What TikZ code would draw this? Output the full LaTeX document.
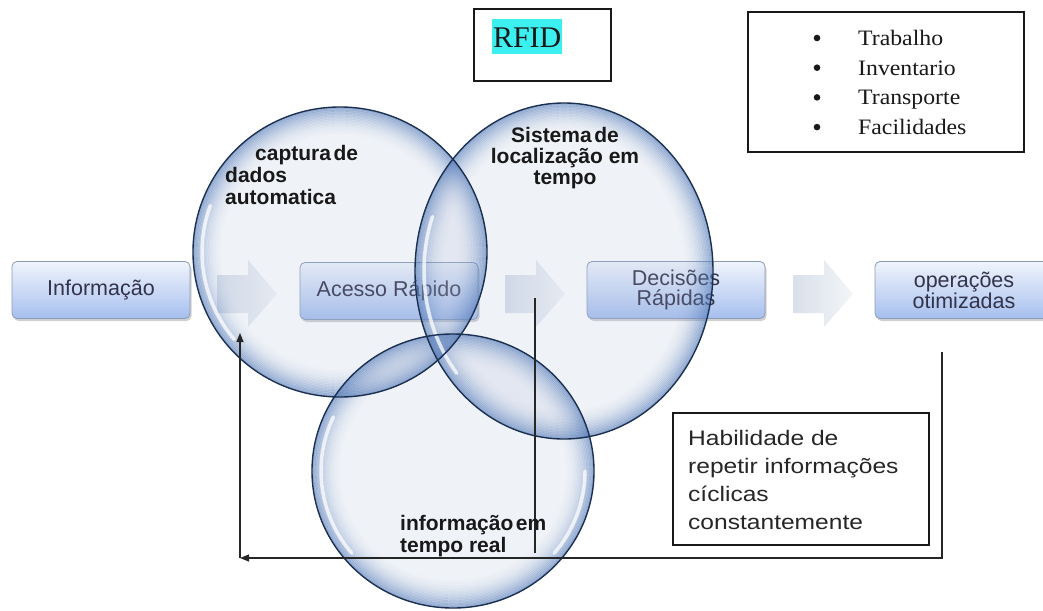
\documentclass[tikz,border=0pt]{standalone}
\usepackage{fontspec}
\usetikzlibrary{shapes.geometric,shadows,arrows.meta}
\setmainfont{Liberation Sans}
\newfontfamily\sansf{Liberation Sans}
\newfontfamily\habf{Liberation Sans}[FakeStretch=1.17]
\newfontfamily\serf{Liberation Serif}[FakeStretch=1.08]
\newfontfamily\rfidf{Liberation Serif}
\newcommand\tightsp{\spaceskip=2.5pt plus 1pt\relax}
\newcommand\drawrim[3]{%
  \foreach \k in {0,...,19}{%
    \pgfmathsetmacro\rimop{0.5*(1-\k/20)^2}%
    \pgfmathsetmacro\rimd{0.8+1.5*\k}%
    \draw[draw=bubRim, line width=1.7pt, opacity=\rimop] (#1.center) ellipse [x radius=#2-\rimd, y radius=#3-\rimd];
  }}
\definecolor{boxtop}{HTML}{F0F4FC}
\definecolor{boxbot}{HTML}{A6BFEE}
\definecolor{boxline}{HTML}{8C9BB8}
\definecolor{boxtext}{HTML}{33334A}
\definecolor{chevL}{HTML}{D9E0EB}
\definecolor{chevR}{HTML}{F3F5F8}
\definecolor{bubA}{HTML}{A9B9D8}
\definecolor{bubRim}{HTML}{4A74B6}
\definecolor{bubline}{HTML}{1B3050}
\definecolor{rfidcyan}{HTML}{3CF0F0}
\begin{document}
\begin{tikzpicture}[x=1pt,y=-1pt,
  procbox/.style={rounded corners=5pt, draw=boxline, line width=0.8pt,
    top color=boxtop, bottom color=boxbot, minimum width=178pt, minimum height=57pt,
    inner sep=0pt, align=center, text=boxtext,
    font=\sansf\fontsize{21.5}{19.5}\selectfont,
    drop shadow={shadow xshift=1.5pt, shadow yshift=-2.5pt, opacity=0.3, fill=black!60}},
  chev/.style={left color=chevL, right color=chevR, draw=none},
  bubtint/.style={ellipse, fill=bubA, fill opacity=0.18, inner sep=0pt},
  bubedge/.style={ellipse, draw=bubline, line width=1.4pt, inner sep=0pt},
  cA/.style={minimum width=294pt, minimum height=290pt},
  cB/.style={minimum width=298pt, minimum height=336pt},
  cC/.style={minimum width=282pt, minimum height=274pt},
  gloss/.style={draw=white, line width=3.5pt, opacity=0.75, line cap=round},
  bublabel/.style={inner sep=0pt, text=black!90,
    font=\sansf\bfseries\fontsize{21}{22}\selectfont},
  fbline/.style={draw=black!85, line width=1.1pt},
  fbarrow/.style={fbline, -{Triangle[length=9pt,width=7pt]}},
  plainbox/.style={draw=black!90, line width=1.2pt, fill=white, inner sep=0pt},
  bulletdot/.style={circle, fill=black!90, inner sep=0pt, minimum size=6.6pt}
]
\clip (0,0) rectangle (1043,610);
\fill[white] (0,0) rectangle (1043,610);

% process boxes
\node[procbox] (info) at (101,290) {Informação};
\node[procbox] (acesso) at (389,291) {Acesso Rápido};
\node[procbox] (decis) at (676,290) {Decisões\\Rápidas};
\node[procbox] (oper) at (964,290) {operações\\otimizadas};

% chevrons
\foreach \x in {217,505,793}{
  \path[chev] (\x,275) -- (\x+31,275) -- (\x+31,260) -- (\x+60,294) -- (\x+31,327) -- (\x+31,313) -- (\x,313) -- cycle;
}

% bubbles
\node[bubtint,cA] (c1) at (340,252) {};
\node[bubtint,cB] (c2) at (564,271) {};
\node[bubtint,cC] (c3) at (453,471) {};
\drawrim{c1}{147}{145}
\drawrim{c2}{149}{168}
\drawrim{c3}{141}{137}
\draw[gloss] ([shift={(140:138 and 136)}]c1.center) arc[start angle=140, end angle=200, x radius=138, y radius=136];
\draw[gloss] ([shift={(140:140 and 159)}]c2.center) arc[start angle=140, end angle=200, x radius=140, y radius=159];
\draw[gloss] ([shift={(140:132 and 128)}]c3.center) arc[start angle=140, end angle=205, x radius=132, y radius=128];
\draw[gloss] ([shift={(40:132 and 128)}]c3.center) arc[start angle=40, end angle=0, x radius=132, y radius=128];
\node[bubedge,cA] (e1) at (c1) {};
\node[bubedge,cB] (e2) at (c2) {};
\node[bubedge,cC] (e3) at (c3) {};

% feedback connectors
\coordinate (fbTop) at (942,352);
\coordinate (fbCorner) at (942,558);
\coordinate (fbLeft) at (240,558);
\coordinate (fbUp) at (240,333);
\coordinate (midTop) at (535,298);
\coordinate (midBot) at (535,553);
\draw[fbarrow] (fbTop) -- (fbCorner) -- (fbLeft);
\draw[fbarrow] (fbLeft) -- (fbUp);
\draw[fbline] (midTop) -- (midBot);

% bubble labels
\node[bublabel, anchor=north west, align=left] (l1) at (225,145) {\tightsp\hspace*{30pt}captura de\\dados\\automatica};
\node[bublabel, anchor=north, align=center, font=\sansf\bfseries\fontsize{21}{21}\selectfont] (l2) at (565,127) {\tightsp Sistema de\\localização em\\tempo};
\node[bublabel, anchor=north west, align=left] (l3) at (400,515) {\tightsp informação em\\tempo real};

% Habilidade box
\node[plainbox, minimum width=256pt, minimum height=132pt] (hab) at (801,479) {};
\node[inner sep=0pt, anchor=north west, align=left, text=black!85,
  font=\habf\fontsize{21}{28}\selectfont] (habt) at (688,430)
  {Habilidade de\\repetir informações\\cíclicas\\constantemente};

% RFID box
\node[plainbox, minimum width=137pt, minimum height=72pt] (rfidbox) at (542.5,45) {};
\node[fill=rfidcyan, inner xsep=1pt, inner ysep=3pt, outer sep=0pt, text height=26pt, text depth=3pt,
  anchor=base west, font=\rfidf\fontsize{30}{30}\selectfont, text=black!90] (rfid) at (492,48) {RFID};

% bullet list box
\node[plainbox, minimum width=276pt, minimum height=140pt] (listbox) at (886,82) {};
\foreach \yy [count=\i] in {38,67.7,97.4,127.1}{
  \node[bulletdot] (b\i) at (817,\yy) {};
}
\node[inner sep=0pt, anchor=north west, align=left, font=\serf\fontsize{22}{29.7}\selectfont, text=black!90] (list) at (858,30)
  {Trabalho\\Inventario\\Transporte\\Facilidades};
\end{tikzpicture}
\end{document}
